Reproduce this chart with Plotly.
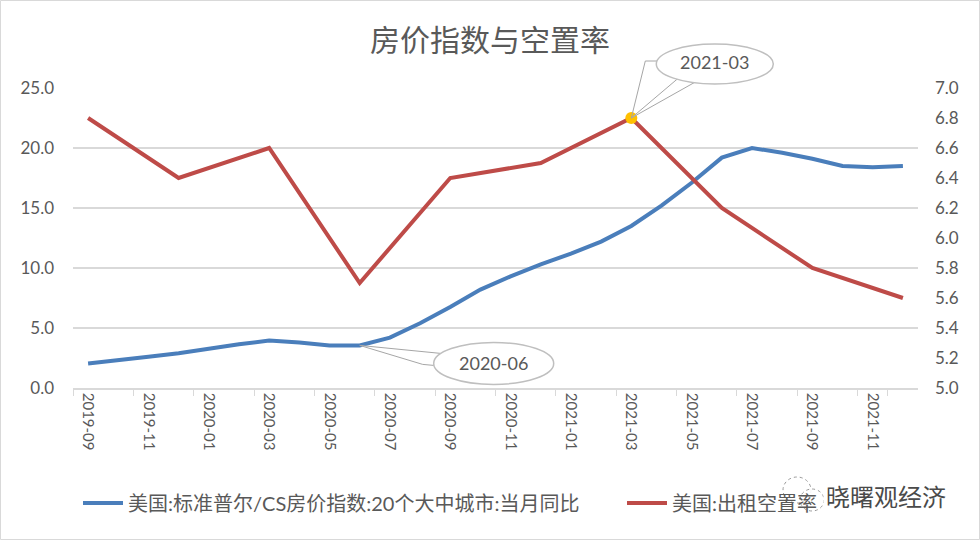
import plotly.graph_objects as go

# ---------------- data ----------------
months = ["2019-09", "2019-10", "2019-11", "2019-12", "2020-01", "2020-02", "2020-03",
          "2020-04", "2020-05", "2020-06", "2020-07", "2020-08", "2020-09", "2020-10",
          "2020-11", "2020-12", "2021-01", "2021-02", "2021-03", "2021-04", "2021-05",
          "2021-06", "2021-07", "2021-08", "2021-09", "2021-10", "2021-11", "2021-12"]
hpi_yoy = [2.05, 2.3, 2.6, 2.9, 3.3, 3.65, 3.95, 3.8, 3.55, 3.55, 4.2, 5.4, 6.75, 8.2,
           9.3, 10.3, 11.2, 12.2, 13.5, 15.2, 17.1, 19.2, 20.0, 19.6, 19.1, 18.5, 18.4, 18.5]
vac_months = ["2019-09", "2019-12", "2020-03", "2020-06", "2020-09", "2020-12",
              "2021-03", "2021-06", "2021-09", "2021-12"]
vacancy = [6.8, 6.4, 6.6, 5.7, 6.4, 6.5, 6.8, 6.2, 5.8, 5.6]
left_ticks = [0, 5, 10, 15, 20, 25]
right_ticks = [5.0, 5.2, 5.4, 5.6, 5.8, 6.0, 6.2, 6.4, 6.6, 6.8, 7.0]
x_tick_labels = months[::2]
blue_name = "美国:标准普尔/CS房价指数:20个大中城市:当月同比"
red_name = "美国:出租空置率"
title_text = "房价指数与空置率"
callout_a = "2020-06"
callout_b = "2021-03"
watermark = "晓曙观经济"

BLUE = "#4A7EBB"
RED = "#BE4B48"
GRAY = "#595959"
GRID = "#D9D9D9"
FONT = "Lato, Noto Sans CJK SC, sans-serif"
Y1R = [0, 25]
Y2R = [5.0, 7.0]

ML, MR, MT, MB = 73, 62, 88, 152
W, H = 980, 540
PW, PH = W - ML - MR, H - MT - MB


def px(x):  # page pixel -> paper x
    return (x - ML) / PW


def py(y):  # page pixel -> paper y
    return (H - y - MB) / PH


fig = go.Figure()
fig.add_trace(go.Scatter(x=months, y=hpi_yoy, name=blue_name, mode="lines",
                         line=dict(color=BLUE, width=4), yaxis="y", legendwidth=489))
fig.add_trace(go.Scatter(x=vac_months, y=vacancy, name=red_name, mode="lines",
                         line=dict(color=RED, width=4), yaxis="y2", legendwidth=150))
ib = vac_months.index(callout_b)
fig.add_trace(go.Scatter(x=[vac_months[ib]], y=[vacancy[ib]], mode="markers",
                         marker=dict(color="#FFC000", size=12), yaxis="y2",
                         showlegend=False, hoverinfo="skip"))

ia = months.index(callout_a)
shapes = []
# frame
shapes.append(dict(type="rect", xref="paper", yref="paper",
                   x0=px(0.5), x1=px(W - 0.5), y0=py(H - 0.5), y1=py(0.5),
                   line=dict(color=GRID, width=1), layer="below"))
# callout 2020-06 (blue point)
common_a = dict(xref="x", yref="y", xsizemode="pixel", ysizemode="pixel",
                xanchor=months[ia], yanchor=hpi_yoy[ia])
shapes.append(dict(type="path", path="M 0 0 L 81 -8 L 74 -20 L 63 -19 Z",
                   fillcolor="white", line=dict(color="#A6A6A6", width=1), **common_a))
shapes.append(dict(type="circle", x0=74, x1=194, y0=-39, y1=3,
                   fillcolor="white", line=dict(color="#BFBFBF", width=1.5), **common_a))
# callout 2021-03 (red point) -- anchored in paper y so it is not clipped above the plot
yb_frac = (vacancy[ib] - Y2R[0]) / (Y2R[1] - Y2R[0])
common_b = dict(xref="x", yref="paper", xsizemode="pixel", ysizemode="pixel",
                xanchor=vac_months[ib], yanchor=yb_frac)
shapes.append(dict(type="path", path="M 0 0 L 14 57 L 30 57",
                   line=dict(color="#A6A6A6", width=1), **common_b))
shapes.append(dict(type="path", path="M 0 0 L 46 39 L 64 36 Z",
                   fillcolor="white", line=dict(color="#A6A6A6", width=1), **common_b))
shapes.append(dict(type="circle", x0=25, x1=142, y0=34, y1=74,
                   fillcolor="white", line=dict(color="#BFBFBF", width=1.5), **common_b))
# watermark icon (two chat bubbles)
shapes.append(dict(type="circle", xref="paper", yref="paper",
                   x0=px(783), x1=px(811), y0=py(503), y1=py(477),
                   fillcolor="rgba(255,255,255,0.85)", line=dict(color="#9A9A9A", width=1, dash="dot")))
shapes.append(dict(type="circle", xref="paper", yref="paper",
                   x0=px(800), x1=px(824), y0=py(511), y1=py(489),
                   fillcolor="rgba(255,255,255,0.9)", line=dict(color="#9A9A9A", width=1, dash="dot")))

annotations = [
    dict(x=months[ia], y=hpi_yoy[ia], xref="x", yref="y", text=callout_a,
         showarrow=False, xshift=134, yshift=-18, xanchor="center", yanchor="middle",
         font=dict(family=FONT, size=18, color=GRAY)),
    dict(x=vac_months[ib], y=vacancy[ib], xref="x", yref="y2", text=callout_b,
         showarrow=False, xshift=83, yshift=56, xanchor="center", yanchor="middle",
         font=dict(family=FONT, size=18, color=GRAY)),
    dict(x=px(886), y=py(495), xref="paper", yref="paper",
         text=watermark, showarrow=False, bgcolor="white", borderpad=2,
         xanchor="center", yanchor="middle",
         font=dict(family="Noto Sans CJK SC", size=24, color="#4A4A4A")),
]

fig.update_layout(
    width=W, height=H,
    margin=dict(l=ML, r=MR, t=MT, b=MB),
    paper_bgcolor="white", plot_bgcolor="white",
    title=dict(text=title_text, x=0.5, xref="container", y=1 - 40 / H, yref="container",
               xanchor="center", yanchor="middle",
               font=dict(family="Noto Sans CJK SC", size=30, color=GRAY)),
    font=dict(family=FONT, color=GRAY),
    showlegend=True,
    legend=dict(orientation="h", xref="container", yref="container",
                x=78 / W, y=1 - 503 / H, xanchor="left", yanchor="middle",
                itemwidth=40,
                font=dict(family=FONT, size=20, color=GRAY),
                bgcolor="rgba(0,0,0,0)"),
    xaxis=dict(type="category", categoryorder="array", categoryarray=months,
               range=[-0.5, len(months) - 0.5],
               tickmode="array", tickvals=x_tick_labels, ticktext=x_tick_labels,
               tickangle=90, tickson="boundaries", ticks="outside", ticklen=6,
               tickcolor=GRID, showline=True, linecolor=GRID, linewidth=1.5,
               showgrid=False, tickfont=dict(family=FONT, size=15, color=GRAY)),
    yaxis=dict(range=Y1R, tickvals=left_ticks, tickformat=".1f",
               showgrid=True, gridcolor=GRID, gridwidth=1.5, zeroline=False,
               showline=False, ticks="", ticklabelstandoff=18,
               tickfont=dict(family=FONT, size=17, color=GRAY)),
    yaxis2=dict(range=Y2R, tickvals=right_ticks, tickformat=".1f",
                overlaying="y", side="right", showgrid=False, zeroline=False,
                showline=False, ticks="", ticklabelstandoff=16,
                tickfont=dict(family=FONT, size=17, color=GRAY)),
    shapes=shapes,
    annotations=annotations,
)

fig.write_html("out.html", config={"displayModeBar": False},
               post_script="document.body.style.margin='0';")
